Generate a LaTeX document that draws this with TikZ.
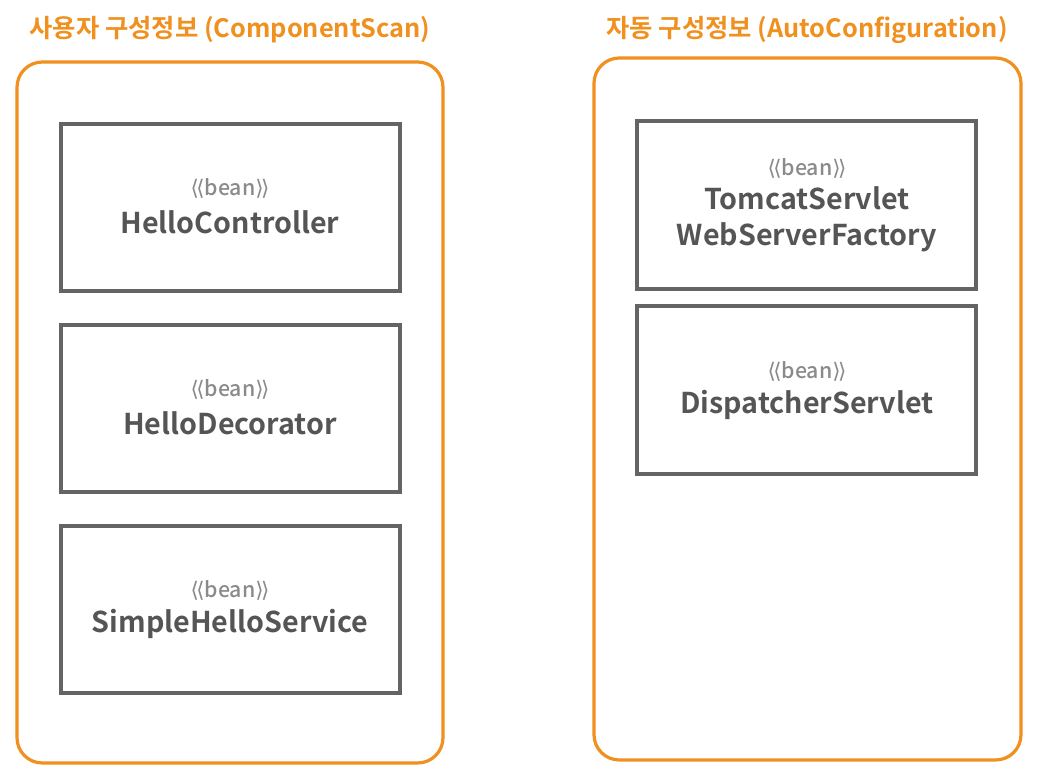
\documentclass[tikz,border=0pt]{standalone}
\usepackage{fontspec}
\setmainfont{Noto Sans CJK KR}[BoldFont={* Bold}]
\newfontfamily\brk{DejaVu Sans}
\newfontfamily\beanfont{Noto Sans CJK KR Medium}
\newcommand{\beanword}{{\brk ⟨\kern-0.12em⟨}{\beanfont bean}{\brk ⟩\kern-0.12em⟩}}
\definecolor{orng}{HTML}{F0901E}
\definecolor{boxgray}{HTML}{646464}
\definecolor{txtgray}{HTML}{555555}
\definecolor{beangray}{HTML}{8A8A8A}
\begin{document}
\begin{tikzpicture}[x=0.75pt,y=-0.75pt,
  container/.style={draw=orng,line width=2.4pt,rounded corners=19pt},
  beanbox/.style={draw=boxgray,line width=2.6pt},
  beanlbl/.style={font=\fontsize{16}{18}\selectfont,text=beangray,inner sep=0pt},
  namelbl/.style={font=\fontsize{21.5}{27}\selectfont\bfseries,text=txtgray,inner sep=0pt,align=center},
  title/.style={font=\fontsize{19}{24}\selectfont\bfseries,text=orng,inner sep=0pt}]
\useasboundingbox[fill=white] (0,0) rectangle (1058,780);
% containers
\draw[container] (17,62) rectangle (443,763);
\draw[container] (594,58) rectangle (1021,760);
\node[title] (t1) at (230,30) {사용자 구성정보 (ComponentScan)};
\node[title] (t2) at (807,30) {자동 구성정보 (AutoConfiguration)};
% left boxes
\draw[beanbox] (61,124) rectangle (400,291);
\node[beanlbl] (b1) at (230,188) {\beanword};
\node[namelbl] (n1) at (230,222) {HelloController};
\draw[beanbox] (61,325) rectangle (400,492);
\node[beanlbl] (b2) at (230,389) {\beanword};
\node[namelbl] (n2) at (230,423) {HelloDecorator};
\draw[beanbox] (61,526) rectangle (400,693);
\node[beanlbl] (b3) at (230,590) {\beanword};
\node[namelbl] (n3) at (230,624) {SimpleHelloService};
% right boxes
\draw[beanbox] (637,121) rectangle (976,289);
\node[beanlbl] (b4) at (807,168) {\beanword};
\node[namelbl] (n4) at (807,219) {TomcatServlet\\WebServerFactory};
\draw[beanbox] (637,306) rectangle (976,474);
\node[beanlbl] (b5) at (807,371) {\beanword};
\node[namelbl] (n5) at (807,405) {DispatcherServlet};
\end{tikzpicture}
\end{document}
